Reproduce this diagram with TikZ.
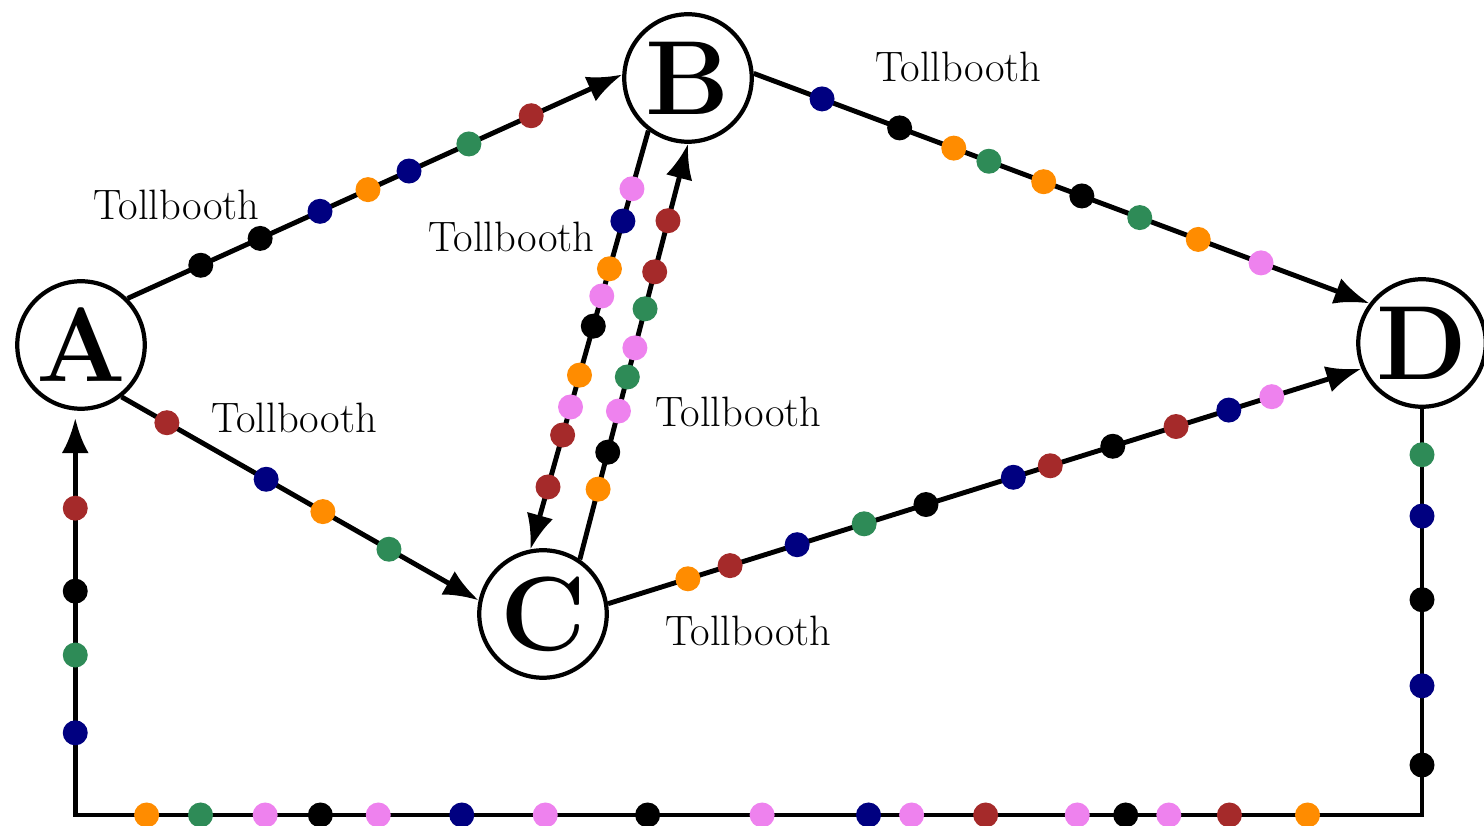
\documentclass[tikz,border=0pt]{standalone}
\usepackage{xcolor}
\usepackage{tikz}
\usetikzlibrary{arrows.meta}
\definecolor{navyc}{RGB}{0,0,128}
\definecolor{orangec}{RGB}{255,140,0}
\definecolor{greenc}{RGB}{46,139,87}
\definecolor{brownc}{RGB}{165,42,42}
\definecolor{violetc}{RGB}{238,130,238}
\tikzset{
  town/.style={circle, draw=black, line width=2.4pt, minimum size=2.55cm,
               inner sep=0pt, font=\fontsize{60}{64}\selectfont\bfseries},
  road/.style={-{Latex[length=0.7cm,width=0.54cm]}, line width=2.8pt},
  toll/.style={circle, fill=#1, inner sep=0pt, minimum size=0.5cm},
  tag/.style={font=\fontsize{24.2}{28}\selectfont},
}

\begin{document}
\begin{tikzpicture}
  \useasboundingbox (0,0) rectangle (29.68,16.52);

  \node[town] (A) at (1.62,9.62)  {A};
  \node[town] (B) at (13.76,14.96) {B};
  \node[town] (C) at (10.86,4.24) {C};
  \node[town] (D) at (28.44,9.66) {D};

  % corners of the long way round
  \coordinate (dr) at (28.44,0.22);
  \coordinate (dl) at (A.265 |- dr);

  \node[tag] (tAB) at (3.53,12.42)  {Tollbooth};
  \node[tag] (tBD) at (19.17,15.18) {Tollbooth};
  \node[tag] (tBC) at (10.23,11.78) {Tollbooth};
  \node[tag] (tCB) at (14.77,8.28)  {Tollbooth};
  \node[tag] (tAC) at (5.88,8.16)   {Tollbooth};
  \node[tag] (tCD) at (14.97,3.90)  {Tollbooth};

  \draw[road] (A.45) --
    node[toll=black,pos=.148]{} node[toll=black,pos=.268]{}
    node[toll=navyc,pos=.389]{} node[toll=orangec,pos=.486]{}
    node[toll=navyc,pos=.569]{} node[toll=greenc,pos=.690]{}
    node[toll=brownc,pos=.816]{} (B.177);
  \draw[road] (B.4) --
    node[toll=navyc,pos=.111]{} node[toll=black,pos=.237]{}
    node[toll=orangec,pos=.325]{} node[toll=greenc,pos=.382]{}
    node[toll=orangec,pos=.471]{} node[toll=black,pos=.533]{}
    node[toll=greenc,pos=.627]{} node[toll=orangec,pos=.722]{}
    node[toll=violetc,pos=.824]{} (D.143);
  \draw[road] (B.233) --
    node[toll=violetc,pos=.139]{} node[toll=navyc,pos=.216]{}
    node[toll=orangec,pos=.330]{} node[toll=violetc,pos=.395]{}
    node[toll=black,pos=.467]{} node[toll=orangec,pos=.584]{}
    node[toll=violetc,pos=.660]{} node[toll=brownc,pos=.727]{}
    node[toll=brownc,pos=.851]{} (C.101);
  \draw[road] (C.56) --
    node[toll=orangec,pos=.169]{} node[toll=black,pos=.258]{}
    node[toll=violetc,pos=.357]{} node[toll=greenc,pos=.439]{}
    node[toll=violetc,pos=.509]{} node[toll=greenc,pos=.603]{}
    node[toll=brownc,pos=.692]{} node[toll=brownc,pos=.815]{} (B.south);
  \draw[road] (A.-52) --
    node[toll=brownc,pos=.127]{} node[toll=navyc,pos=.405]{}
    node[toll=orangec,pos=.564]{} node[toll=greenc,pos=.749]{} (C.168);
  \draw[road] (C.9) --
    node[toll=orangec,pos=.106]{} node[toll=brownc,pos=.162]{}
    node[toll=navyc,pos=.251]{} node[toll=greenc,pos=.340]{}
    node[toll=black,pos=.422]{} node[toll=navyc,pos=.538]{}
    node[toll=brownc,pos=.587]{} node[toll=black,pos=.670]{}
    node[toll=brownc,pos=.754]{} node[toll=navyc,pos=.824]{}
    node[toll=violetc,pos=.881]{} (D.203);

  % D back to A along the bottom
  \draw[road] (D.south) --
    node[toll=greenc,pos=.113]{} node[toll=navyc,pos=.264]{}
    node[toll=black,pos=.470]{} node[toll=navyc,pos=.682]{}
    node[toll=black,pos=.877]{} (dr) --
    node[toll=orangec,pos=.085]{} node[toll=brownc,pos=.143]{}
    node[toll=violetc,pos=.188]{} node[toll=black,pos=.220]{}
    node[toll=violetc,pos=.256]{} node[toll=brownc,pos=.324]{}
    node[toll=violetc,pos=.379]{} node[toll=navyc,pos=.411]{}
    node[toll=violetc,pos=.490]{} node[toll=black,pos=.575]{}
    node[toll=violetc,pos=.651]{} node[toll=navyc,pos=.713]{}
    node[toll=violetc,pos=.775]{} node[toll=black,pos=.818]{}
    node[toll=violetc,pos=.859]{} node[toll=greenc,pos=.907]{}
    node[toll=orangec,pos=.947]{} (dl) --
    node[toll=navyc,pos=.207]{} node[toll=greenc,pos=.403]{}
    node[toll=black,pos=.564]{} node[toll=brownc,pos=.773]{}
    ([yshift=-0.15cm]A.265);
\end{tikzpicture}
\end{document}
